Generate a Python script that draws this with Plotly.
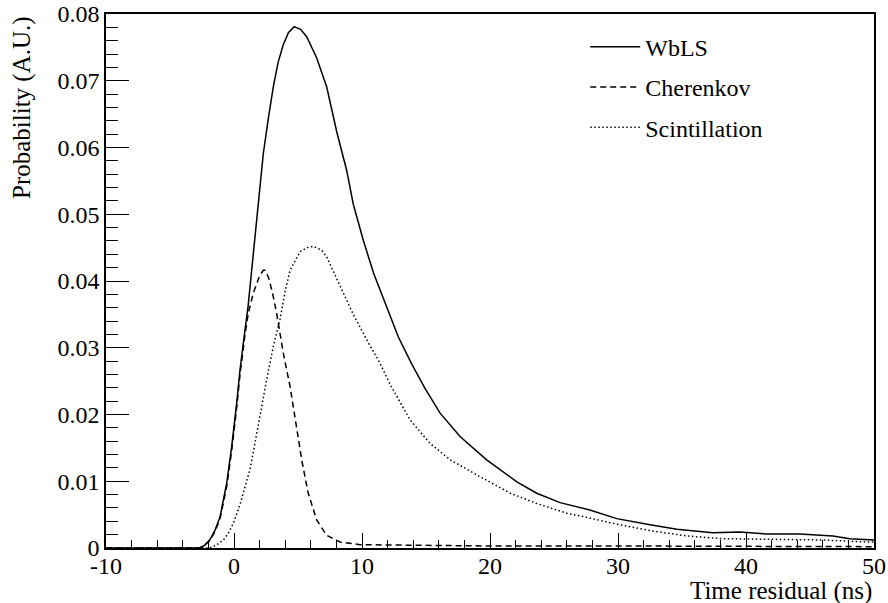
import plotly.graph_objects as go

# ---- data ----
wbls_x = [-10, -3.5, -2.7, -2.3, -1.9, -1.5, -1.1, -0.57, -0.18, 0.21, 0.47, 0.86, 1.1, 1.51, 1.9, 2.29,
          2.7, 3.07, 3.45, 3.85, 4.25, 4.7, 5.2, 5.68, 6.46, 7.24, 8.02, 8.8, 9.32, 10.1, 10.9, 11.93,
          12.84, 13.9, 14.9, 16.1, 17.66, 19.74, 22.1, 23.65, 25.47, 27.8, 29.9, 32.5, 34.6, 37.4,
          39.5, 41.6, 44.2, 46.8, 48.1, 50]
wbls_y = [0, 0, 0, 0.0004, 0.0012, 0.0026, 0.0046, 0.0097, 0.0152, 0.0217, 0.0267, 0.0327, 0.0362,
          0.0441, 0.0520, 0.0591, 0.0646, 0.0691, 0.0728, 0.0754, 0.0772, 0.0781, 0.0777, 0.0766,
          0.0734, 0.0691, 0.0624, 0.0566, 0.0515, 0.0461, 0.0412, 0.0362, 0.0316, 0.0275, 0.0240,
          0.0202, 0.0167, 0.0132, 0.0099, 0.0082, 0.0068, 0.0057, 0.0044, 0.0035, 0.0028, 0.0023,
          0.0024, 0.0021, 0.0021, 0.0018, 0.0014, 0.0012]

cher_x = [-10, -3.5, -2.7, -2.3, -1.9, -1.5, -1.1, -0.57, -0.18, 0.21, 0.47, 0.86, 1.12, 1.51, 1.77,
          2.0, 2.29, 2.42, 2.7, 3.0, 3.33, 3.85, 4.38, 4.77, 5.29, 5.8, 6.46, 7.24, 8.28, 9.84, 15,
          20, 30, 40, 50]
cher_y = [0, 0, 0, 0.0004, 0.0011, 0.0024, 0.0043, 0.0092, 0.0146, 0.0210, 0.0260, 0.0320, 0.0352,
          0.0382, 0.0397, 0.0408, 0.0416, 0.0416, 0.0405, 0.0383, 0.0352, 0.0292, 0.0242, 0.0192,
          0.0132, 0.0082, 0.0042, 0.0019, 0.0009, 0.0005, 0.0004, 0.0003, 0.0003, 0.0002, 0.0002]

scint_x = [-10, -1.9, -1.4, -0.83, -0.45, -0.05, 0.47, 0.86, 1.25, 1.51, 2.03, 2.55, 3.07, 3.59, 4.0,
           4.38, 5.16, 5.7, 6.2, 6.85, 7.24, 8.28, 9.32, 10.4, 11.4, 12.2, 13.75, 15.3, 16.9, 19.2,
           21.6, 23.6, 26, 27.3, 29.6, 32.5, 35.4, 38.1, 40.7, 43.3, 46, 49.4, 50]
scint_y = [0, 0, 0.0004, 0.0012, 0.0022, 0.0037, 0.0065, 0.0090, 0.0118, 0.0144, 0.0200, 0.0252,
           0.0302, 0.0342, 0.0385, 0.0416, 0.0444, 0.0450, 0.0452, 0.0446, 0.0436, 0.0394, 0.0350,
           0.0311, 0.0277, 0.0245, 0.0192, 0.0157, 0.0132, 0.0107, 0.0082, 0.0067, 0.0052, 0.0047,
           0.0037, 0.0026, 0.0018, 0.0014, 0.0013, 0.0013, 0.0012, 0.0009, 0.0009]

x_tickvals = [-10, 0, 10, 20, 30, 40, 50]
x_ticktext = ["-10", "0", "10", "20", "30", "40", "50"]
y_tickvals = [0, 0.01, 0.02, 0.03, 0.04, 0.05, 0.06, 0.07, 0.08]
y_ticktext = ["0", "0.01", "0.02", "0.03", "0.04", "0.05", "0.06", "0.07", "0.08"]

FONT = "Liberation Serif"

fig = go.Figure()
fig.add_trace(go.Scatter(x=wbls_x, y=wbls_y, mode="lines", name="WbLS", legendgroup="a",
                         line=dict(color="black", width=1.5, dash="solid")))
fig.add_trace(go.Scatter(x=cher_x, y=cher_y, mode="lines", name="Cherenkov", legendgroup="b",
                         line=dict(color="black", width=1.5, dash="6px,4px")))
fig.add_trace(go.Scatter(x=scint_x, y=scint_y, mode="lines", name="Scintillation", legendgroup="c",
                         line=dict(color="black", width=1.5, dash="1.5px,2.5px")))

axis_common = dict(showgrid=False, zeroline=False, showline=True, linecolor="black", linewidth=1.5,
                   mirror=True, ticks="inside", tickcolor="black", tickwidth=1.2, automargin=False,
                   tickfont=dict(family=FONT, size=24, color="black"))

fig.update_xaxes(range=[-10, 50], tickmode="array", tickvals=x_tickvals, ticktext=x_ticktext,
                 ticklen=15, ticklabelstandoff=-5,
                 minor=dict(ticks="inside", dtick=2, ticklen=8, tickcolor="black", tickwidth=1.2),
                 **axis_common)
fig.update_yaxes(range=[0, 0.08], tickmode="array", tickvals=y_tickvals, ticktext=y_ticktext,
                 ticklen=23, minor=dict(ticks="inside", dtick=0.002, ticklen=12, tickcolor="black", tickwidth=1.2),
                 **axis_common)

fig.add_annotation(text="Time residual (ns)", xref="paper", yref="paper", x=1.0, y=-0.080,
                   xanchor="right", yanchor="middle", showarrow=False,
                   font=dict(family=FONT, size=25, color="black"))
fig.add_annotation(text="Probability (A.U.)", xref="paper", yref="paper", x=-0.110, y=1.0,
                   xanchor="center", yanchor="top", textangle=-90, showarrow=False,
                   font=dict(family=FONT, size=25, color="black"))

fig.update_layout(
    width=888, height=603,
    margin=dict(l=106, r=14, t=14, b=55, autoexpand=False),
    paper_bgcolor="white", plot_bgcolor="white",
    font=dict(family=FONT, size=24, color="black"),
    legend=dict(x=0.624, y=0.98, xanchor="left", yanchor="top", bgcolor="rgba(0,0,0,0)",
                borderwidth=0, traceorder="grouped", tracegroupgap=6, itemwidth=50,
                font=dict(family=FONT, size=24, color="black")),
    showlegend=True,
)

fig.write_html("out.html", config={"displayModeBar": False},
               post_script="document.body.style.margin='0';document.body.style.overflow='hidden';")
